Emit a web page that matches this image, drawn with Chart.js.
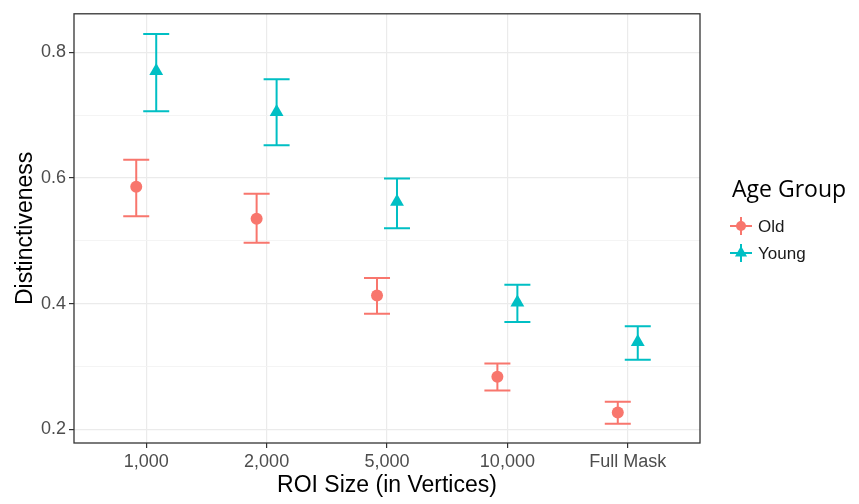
<!DOCTYPE html>
<html>
<head>
<meta charset="utf-8">
<title>Distinctiveness by ROI size</title>
<script src="https://cdn.jsdelivr.net/npm/chart.js@4.4.0/dist/chart.umd.min.js"></script>
<style>
  html, body { margin: 0; padding: 0; background: #fff; }
</style>
</head>
<body>
<canvas id="chart" width="859" height="504"></canvas>
<script>
// data
const categories = ["1,000", "2,000", "5,000", "10,000", "Full Mask"];
const groupNames = ["Old", "Young"];
const oldMean = [0.586, 0.535, 0.413, 0.284, 0.227];
const oldLow = [0.539, 0.497, 0.384, 0.262, 0.209];
const oldHigh = [0.629, 0.575, 0.441, 0.305, 0.244];
const youngMean = [0.770, 0.705, 0.562, 0.402, 0.339];
const youngLow = [0.706, 0.652, 0.520, 0.371, 0.311];
const youngHigh = [0.829, 0.757, 0.599, 0.430, 0.364];
const yTicks = [0.2, 0.3, 0.4, 0.5, 0.6, 0.7, 0.8];

const OLD_COLOR = "#F8766D";
const YOUNG_COLOR = "#00BFC4";
const DODGE = 0.083; // position_dodge, in category units
const CAP = 0.108;   // half width of error bar caps

const toPoints = (means, shift) =>
  means.map((v, i) => ({ x: i + 1 + shift, y: v }));

const isMajor = (v) => Math.round(v * 10) % 2 === 0;

// whiskers are drawn under the points
const errorBars = {
  id: "errorBars",
  beforeDatasetsDraw(chart) {
    const { ctx, scales: { x, y } } = chart;
    chart.data.datasets.forEach((ds) => {
      ctx.save();
      ctx.strokeStyle = ds.backgroundColor;
      ctx.lineWidth = 2;
      ds.data.forEach((p, i) => {
        const px = x.getPixelForValue(p.x);
        const x0 = x.getPixelForValue(p.x - CAP);
        const x1 = x.getPixelForValue(p.x + CAP);
        const top = y.getPixelForValue(ds.errHigh[i]);
        const bot = y.getPixelForValue(ds.errLow[i]);
        ctx.beginPath();
        ctx.moveTo(px, top);
        ctx.lineTo(px, bot);
        ctx.moveTo(x0, top);
        ctx.lineTo(x1, top);
        ctx.moveTo(x0, bot);
        ctx.lineTo(x1, bot);
        ctx.stroke();
      });
      ctx.restore();
    });
  },
};

// panel border + ggplot style legend on the right
const panelAndLegend = {
  id: "panelAndLegend",
  afterDraw(chart) {
    const { ctx, chartArea: a } = chart;
    ctx.save();
    ctx.strokeStyle = "#333333";
    ctx.lineWidth = 1.3;
    ctx.strokeRect(a.left, a.top, a.right - a.left, a.bottom - a.top);

    ctx.fillStyle = "#000";
    ctx.font = "23px 'Open Sans', 'Noto Sans', sans-serif";
    ctx.textBaseline = "middle";
    ctx.textAlign = "left";
    ctx.fillText("Age Group", 732, 190);

    const rows = [226, 253];
    chart.data.datasets.forEach((ds, i) => {
      const cx = 741, cy = rows[i];
      ctx.strokeStyle = ds.backgroundColor;
      ctx.fillStyle = ds.backgroundColor;
      ctx.lineWidth = 2;
      ctx.beginPath();
      ctx.moveTo(cx - 11, cy);
      ctx.lineTo(cx + 11, cy);
      ctx.moveTo(cx, cy - 9);
      ctx.lineTo(cx, cy + 9);
      ctx.stroke();
      Chart.helpers.drawPoint(ctx, {
        pointStyle: ds.pointStyle,
        radius: ds.pointStyle === "triangle" ? 7 : 5,
        borderWidth: 0,
      }, cx, cy);
      ctx.fillStyle = "#1A1A1A";
      ctx.font = "17px 'Liberation Sans', Arial, sans-serif";
      ctx.fillText(ds.label, 758, cy + 1);
    });
    ctx.restore();
  },
};

new Chart(document.getElementById("chart"), {
  type: "scatter",
  data: {
    datasets: [
      {
        label: groupNames[0],
        data: toPoints(oldMean, -DODGE),
        errLow: oldLow,
        errHigh: oldHigh,
        backgroundColor: OLD_COLOR,
        borderColor: OLD_COLOR,
        pointStyle: "circle",
        pointRadius: 6,
        pointBorderWidth: 0,
      },
      {
        label: groupNames[1],
        data: toPoints(youngMean, DODGE),
        errLow: youngLow,
        errHigh: youngHigh,
        backgroundColor: YOUNG_COLOR,
        borderColor: YOUNG_COLOR,
        pointStyle: "triangle",
        pointRadius: 8,
        pointBorderWidth: 0,
      },
    ],
  },
  options: {
    responsive: false,
    animation: false,
    layout: { padding: { left: 0, top: 9, right: 159, bottom: 0 } },
    plugins: {
      legend: { display: false },
      tooltip: { enabled: false },
    },
    scales: {
      x: {
        type: "linear",
        min: 0.4,
        max: 5.6,
        afterBuildTicks: (scale) => {
          scale.ticks = categories.map((c, i) => ({ value: i + 1 }));
        },
        afterFit: (scale) => { scale.height = 61; },
        ticks: {
          callback: (v) => categories[v - 1],
          color: "#4D4D4D",
          font: { size: 18, family: "'Liberation Sans', Arial, sans-serif" },
          padding: 3,
          maxRotation: 0,
        },
        grid: {
          color: "#EBEBEB",
          lineWidth: 1.2,
          tickColor: "#333333",
          tickLength: 5,
        },
        border: { display: false },
        title: {
          display: true,
          text: "ROI Size (in Vertices)",
          color: "#000",
          font: { size: 23, family: "'Liberation Sans', Arial, sans-serif" },
          padding: { top: 0, bottom: 5 },
        },
      },
      y: {
        min: 0.1785,
        max: 0.861,
        afterBuildTicks: (scale) => {
          scale.ticks = yTicks.map((v) => ({ value: v }));
        },
        afterFit: (scale) => { scale.width = 74; },
        ticks: {
          callback: (v) => (isMajor(v) ? v.toFixed(1) : ""),
          color: "#4D4D4D",
          font: { size: 18, family: "'Liberation Sans', Arial, sans-serif" },
          padding: 3,
        },
        grid: {
          color: (c) => (isMajor(c.tick.value) ? "#EBEBEB" : "#F3F3F3"),
          lineWidth: (c) => (isMajor(c.tick.value) ? 1.2 : 0.9),
          tickColor: (c) => (isMajor(c.tick.value) ? "#333333" : "rgba(0,0,0,0)"),
          tickLength: 5,
        },
        border: { display: false },
        title: {
          display: true,
          text: "Distinctiveness",
          color: "#000",
          font: { size: 23, family: "'Liberation Sans', Arial, sans-serif" },
          padding: { top: 12, bottom: 0 },
        },
      },
    },
  },
  plugins: [errorBars, panelAndLegend],
});
</script>
</body>
</html>
